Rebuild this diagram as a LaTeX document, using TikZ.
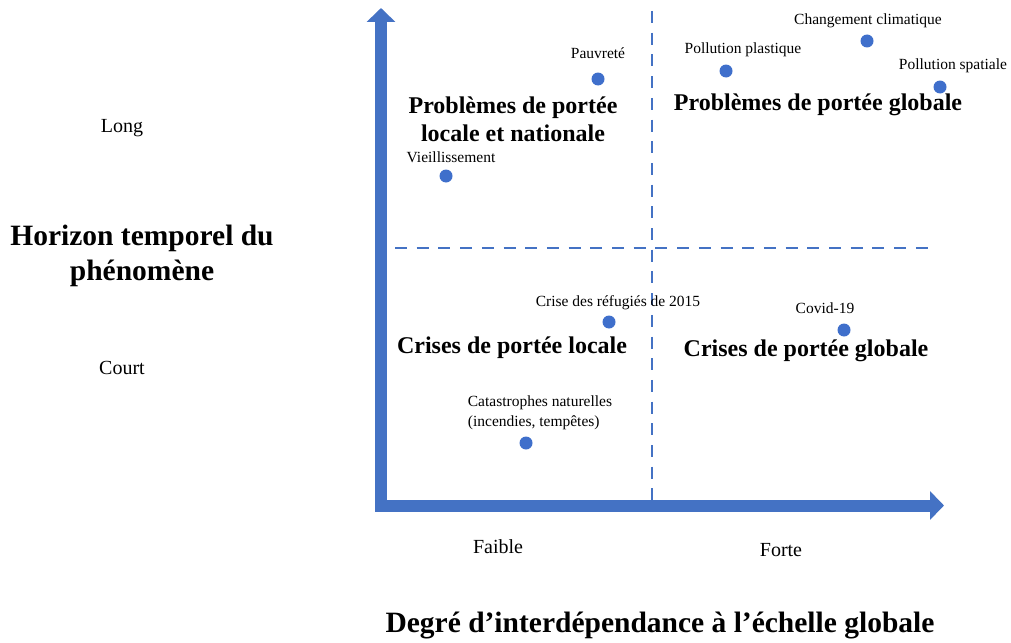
\documentclass[tikz,border=0pt]{standalone}
\usepackage{fontspec}
\setmainfont{Liberation Serif}
\usepackage{xcolor}
\usepackage{tikz}
\usetikzlibrary{calc, arrows.meta, positioning}
\definecolor{axisblue}{HTML}{4472C4}
\definecolor{dotblue}{HTML}{3F6FCB}
\tikzset{
    axisline/.style = {axisblue, line width=12pt, line cap=rect, -{Triangle[length=14pt, width=28pt]}},
    dividerline/.style = {axisblue, line width=1.9pt, dash pattern=on 12pt off 9.7pt},
    dotnode/.style = {draw=none, fill=dotblue, circle, minimum size=13pt, inner sep=0em, node distance=0em},
    textnode/.style = {draw=none, fill=none, rectangle, inner sep=0em, node distance=0em, align=center,
      font=\fontsize{15.5}{20}\selectfont},
    quadnode/.style = {draw=none, fill=none, rectangle, inner sep=0em, node distance=0em, align=center,
      font=\bfseries\fontsize{24}{28}\selectfont},
    ticknode/.style = {draw=none, fill=none, rectangle, inner sep=0em, font=\fontsize{20}{24}\selectfont},
    titlenode/.style = {draw=none, fill=none, rectangle, inner sep=0em, align=center,
      font=\bfseries\fontsize{29.5}{35}\selectfont}
}

\begin{document}
\begin{tikzpicture}[x=1pt, y=-1pt]
    \useasboundingbox (0,0) rectangle (1011,642);

    % axes and dividers
    \coordinate (origin) at (381,505.5);
    \coordinate (ytop) at (381,8);
    \coordinate (xend) at (944,505.5);
    \coordinate (vtop) at (652,11);
    \coordinate (vbot) at (652,500);
    \coordinate (hleft) at (395,248);
    \coordinate (hright) at (928,248);

    \draw [dividerline] (vtop) -- (vbot);
    \draw [dividerline] (hleft) -- (hright);
    \draw [axisline] (origin) -- (ytop);
    \draw [axisline] (origin) -- (xend);

    % phenomena
    \node [name=pauv, dotnode] at (598,79) {};
    \node [name=vieil, dotnode] at (446,176) {};
    \node [name=plast, dotnode] at (726,71) {};
    \node [name=climat, dotnode] at (867,41) {};
    \node [name=spat, dotnode] at (940,87) {};
    \node [name=refug, dotnode] at (609,322) {};
    \node [name=covid, dotnode] at (844,330) {};
    \node [name=catas, dotnode] at (526,443) {};

    \node [textnode, above of = pauv, yshift=26pt] {Pauvreté};
    \node [textnode, above of = vieil, xshift=5pt, yshift=19pt] {Vieillissement};
    \node [textnode, above of = plast, xshift=17pt, yshift=21pt] {Pollution plastique};
    \node [textnode, above of = climat, xshift=1pt, yshift=20pt] {Changement climatique};
    \node [textnode, above of = spat, xshift=13pt, yshift=21pt] {Pollution spatiale};
    \node [textnode, above of = refug, xshift=9pt, yshift=19pt] {Crise des réfugiés de 2015};
    \node [textnode, above of = covid, xshift=-19pt, yshift=22pt] {Covid-19};
    \node [textnode, above of = catas, xshift=14pt, yshift=30pt, align=left] {Catastrophes naturelles\\(incendies, tempêtes)};

    % quadrants
    \node [name=q1, quadnode] at (513,119) {Problèmes de portée\\locale et nationale};
    \node [name=q2, quadnode] at (818,105) {Problèmes de portée globale};
    \node [name=q3, quadnode] at (512,348) {Crises de portée locale};
    \node [name=q4, quadnode] at (806,351) {Crises de portée globale};

    % axis labels
    \node [name=long, ticknode] at (122,128) {Long};
    \node [name=court, ticknode] at (122,368) {Court};
    \node [name=faible, ticknode] at (498,547) {Faible};
    \node [name=forte, ticknode] at (781,550) {Forte};
    \node [name=ytitle, titlenode] at (142,256) {Horizon temporel du\\phénomène};
    \node [name=xtitle, titlenode] at (660,625) {Degré d’interdépendance à l’échelle globale};
\end{tikzpicture}
\end{document}
